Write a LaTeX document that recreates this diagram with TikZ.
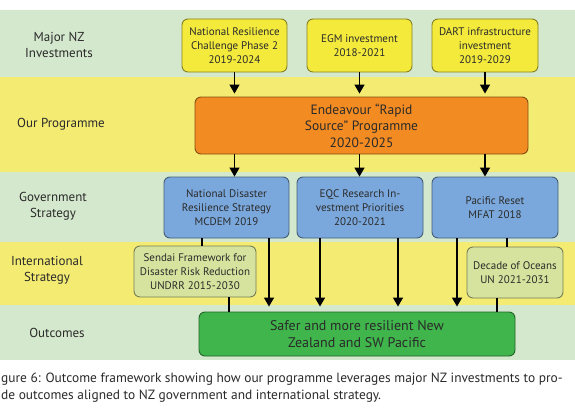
\documentclass[tikz,border=0pt]{standalone}
\usepackage{fontspec}
\setmainfont{PT Sans}
\usetikzlibrary{arrows.meta}
\definecolor{bandgreen}{HTML}{D4E8CD}
\definecolor{bandyellow}{HTML}{F4EC72}
\definecolor{invyellow}{HTML}{F3EA3C}
\definecolor{progorange}{HTML}{F28B22}
\definecolor{govblue}{HTML}{7BA8DC}
\definecolor{intlgreen}{HTML}{D6E39E}
\definecolor{outgreen}{HTML}{3FB54B}
\definecolor{txt}{HTML}{2A2A2A}
\tikzset{
  box/.style={draw=#1!55!black, line width=0.9pt, rounded corners=6pt, align=center, text=txt, inner sep=2pt},
  invbox/.style={box=invyellow, fill=invyellow, minimum width=105pt, minimum height=53pt, font=\fontsize{11}{13.7}\selectfont},
  govbox/.style={box=govblue, fill=govblue, minimum width=125pt, minimum height=61pt, font=\fontsize{11}{13.7}\selectfont},
  intlbox/.style={box=intlgreen, fill=intlgreen, minimum height=51pt, font=\fontsize{11}{13.7}\selectfont},
  rowlabel/.style={align=center, text=txt, font=\fontsize{13}{16}\selectfont},
  arr/.style={line width=1.4pt, -{Triangle[width=10pt,length=9pt]}, shorten >=3pt},
  link/.style={line width=1.2pt}
}
\begin{document}
\begin{tikzpicture}[x=1pt,y=-1pt]
\useasboundingbox[fill=white] (0,0) rectangle (575,412);
% bands
\fill[bandgreen] (0,10) rectangle (575,77);
\fill[bandyellow] (0,77) rectangle (575,172);
\fill[bandgreen] (0,172) rectangle (575,242);
\fill[bandyellow] (0,242) rectangle (575,305);
\fill[bandgreen] (0,305) rectangle (575,360);
% row labels
\node[rowlabel] (l1) at (59,45) {Major NZ\\Investments};
\node[rowlabel] (l2) at (61,124) {Our Programme};
\node[rowlabel] (l3) at (53,206) {Government\\Strategy};
\node[rowlabel] (l4) at (47,270) {International\\Strategy};
\node[rowlabel] (l5) at (57,333) {Outcomes};
% investment boxes
\node[invbox] (nrc) at (234.5,45.5) {National Resilience\\Challenge Phase 2\\2019-2024};
\node[invbox] (egm) at (359.5,45.5) {EGM investment\\2018-2021};
\node[invbox, minimum width=106pt] (dart) at (485,45.5) {DART infrastructure\\investment\\2019-2029};
% programme
\node[box=progorange, fill=progorange, minimum width=333pt, minimum height=57pt, font=\fontsize{13.5}{16.5}\selectfont] (prog) at (361.5,125.5) {Endeavour ``Rapid\\Source'' Programme\\2020-2025};
% government
\node[govbox] (ndrs) at (226.5,207.5) {National Disaster\\Resilience Strategy\\MCDEM 2019};
\node[govbox, minimum width=126pt] (eqc) at (360,207.5) {EQC Research In-\\vestment Priorities\\2020-2021};
\node[govbox, minimum width=126pt] (pac) at (495,207.5) {Pacific Reset\\MFAT 2018};
% international
\node[intlbox, minimum width=122pt] (sendai) at (195,271.5) {Sendai Framework for\\Disaster Risk Reduction\\UNDRR 2015-2030};
\node[intlbox, minimum width=96pt] (ocean) at (515,272.5) {Decade of Oceans\\UN 2021-2031};
% outcome
\node[box=outgreen, fill=outgreen, minimum width=316pt, minimum height=44pt, font=\fontsize{14}{17}\selectfont] (out) at (357,334) {Safer and more resilient New\\Zealand and SW Pacific};
% arrows investments -> programme
\draw[arr] (nrc.south) -- (nrc.south |- prog.north);
\draw[arr] (egm.south) -- (egm.south |- prog.north);
\draw[arr] (dart.south) -- (dart.south |- prog.north);
% programme -> government
\draw[arr, shorten >=0pt] (prog.south -| nrc.south) -- (ndrs.north -| nrc.south);
\draw[arr, shorten >=0pt] (prog.south -| egm.south) -- (eqc.north -| egm.south);
\draw[arr, shorten >=0pt] (prog.south -| dart.south) -- (pac.north -| dart.south);
% government -> outcome
\path ([xshift=42.5pt]ndrs.south) coordinate (a1)
      ([xshift=-40pt]eqc.south) coordinate (a2)
      ([xshift=38pt]eqc.south) coordinate (a3)
      ([xshift=-38pt]pac.south) coordinate (a4)
      ([xshift=-24.5pt]ndrs.south) coordinate (b1)
      ([xshift=34pt]sendai.south) coordinate (b2)
      ([xshift=12pt]pac.south) coordinate (b3)
      ([xshift=-18pt]ocean.south) coordinate (b4);
\draw[arr, shorten >=5pt] (a1) -- (a1 |- out.north);
\draw[arr, shorten >=5pt] (a2) -- (a2 |- out.north);
\draw[arr, shorten >=5pt] (a3) -- (a3 |- out.north);
\draw[arr, shorten >=5pt] (a4) -- (a4 |- out.north);
\draw[link] (b1) -- (b1 |- sendai.north);
\draw[link] (b2) -- (b2 |- out.north);
\draw[link] (b3) -- (b3 |- ocean.north);
\draw[link] (b4) -- (b4 |- out.north);
% caption
\node[anchor=north west, align=left, inner sep=0pt, text=txt, font=\fontsize{13.4}{17}\selectfont] (cap) at (1,373) {gure 6: Outcome framework showing how our programme leverages major NZ investments to pro-\\de outcomes aligned to NZ government and international strategy.};
\end{tikzpicture}
\end{document}
